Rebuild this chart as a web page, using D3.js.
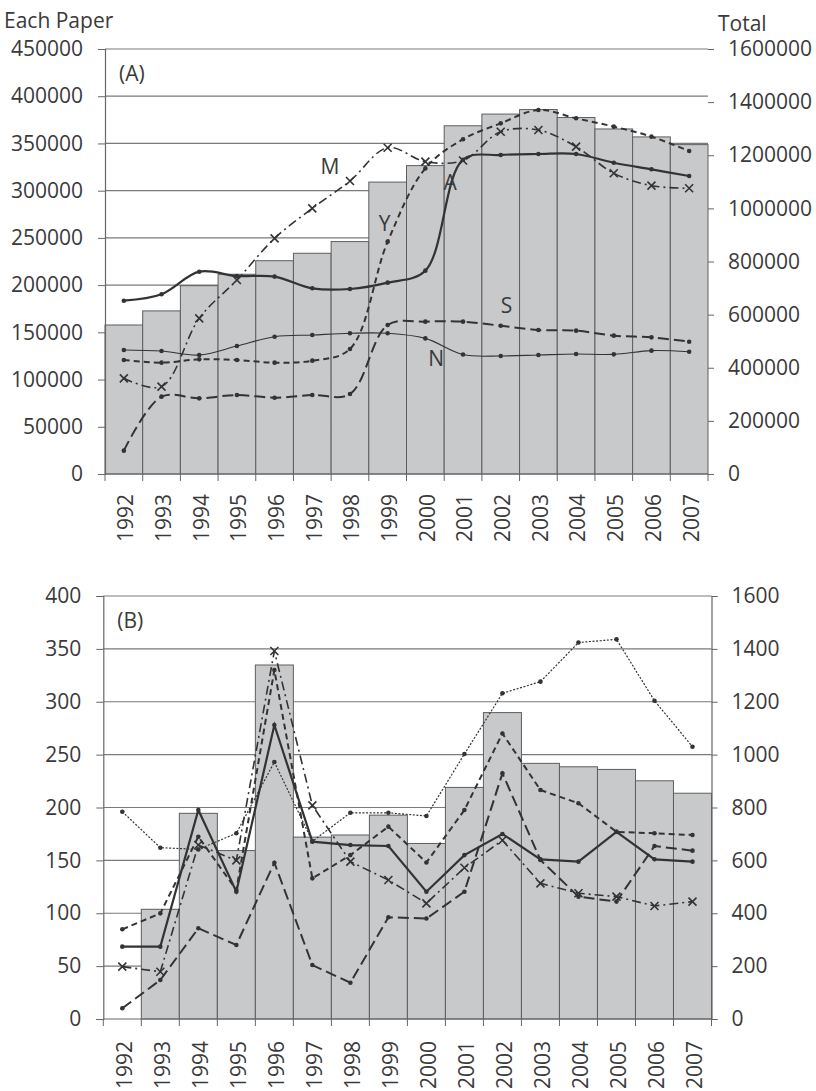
<!DOCTYPE html>
<html>
<head>
<meta charset="utf-8">
<script src="https://cdn.jsdelivr.net/npm/d3@7"></script>
<style>
  html, body { margin: 0; padding: 0; background: #fff; }
  svg { display: block; }
  text { font-family: "Open Sans", "Liberation Sans", sans-serif; fill: #3a3a3a; }
</style>
</head>
<body>
<svg id="chart" width="816" height="1091"></svg>
<script>
// ---- data ----
const years = ["1992","1993","1994","1995","1996","1997","1998","1999",
               "2000","2001","2002","2003","2004","2005","2006","2007"];

// Panel A: article counts
const totalA = [561000, 614000, 709000, 752000, 803000, 831000, 875000, 1099000,
                1161000, 1311000, 1355000, 1372000, 1342000, 1299000, 1269000, 1240000];
const seriesA_A = [183500, 190300, 214200, 209600, 209000, 196600, 195900, 202600,
                   215300, 332800, 337800, 338800, 338800, 329600, 322600, 315500];
const seriesA_M = [101300, 92500, 164800, 205400, 249500, 281300, 310200, 345500,
                   330700, 332000, 362400, 364200, 346600, 318400, 305300, 302500];
const seriesA_Y = [120700, 117900, 121400, 120700, 117900, 120000, 132400, 246000,
                   323600, 354500, 371300, 385400, 376600, 367800, 357200, 342000];
const seriesA_S = [24700, 81900, 80100, 83600, 80800, 83600, 84700, 157800,
                   161300, 161300, 157000, 152500, 151800, 146500, 144700, 140100];
const seriesA_N = [131300, 130200, 126000, 135500, 145400, 147200, 149000, 149000,
                   143600, 126500, 125000, 126000, 127000, 126700, 130600, 129500];

// Panel B: article counts
const totalB = [0, 415, 778, 637, 1339, 688, 696, 771, 664, 876, 1159, 967, 954, 944, 901, 854];
const seriesB_A = [68.4, 68.4, 197.6, 120.4, 278, 167.7, 164.5, 163.6, 120.4, 155, 175, 151, 148.8, 177, 151, 148.8];
const seriesB_M = [49.5, 44.7, 164.5, 150, 348, 202, 148.8, 131.4, 109.4, 143, 169, 128.3, 118.9, 115.7, 106.9, 111];
const seriesB_Y = [84.8, 99.9, 172.4, 122, 330, 133, 155, 181.9, 148, 197.6, 270, 216.5, 204, 177, 175.6, 174];
const seriesB_S = [10.1, 36.9, 85.8, 70, 147.8, 51, 34.3, 96.2, 95, 120.4, 232.3, 150.4, 115.7, 111, 163.6, 159.2];
const seriesB_N = [196, 162, 160.4, 175.6, 243, 168, 195, 195, 192, 250.6, 308, 319, 356, 359, 301, 257.5];

const ticksLeftA = [0, 50000, 100000, 150000, 200000, 250000, 300000, 350000, 400000, 450000];
const ticksRightA = [0, 200000, 400000, 600000, 800000, 1000000, 1200000, 1400000, 1600000];
const ticksLeftB = [0, 50, 100, 150, 200, 250, 300, 350, 400];
const ticksRightB = [0, 200, 400, 600, 800, 1000, 1200, 1400, 1600];

// ---- drawing ----
const svg = d3.select("#chart");
const lineColor = "#333";
const fontPx = "21px";

const styles = {
  A: { dash: null, width: 2.2, marker: "dot" },
  M: { dash: "9,4,2,4", width: 1.6, marker: "x" },
  Y: { dash: "6,4", width: 2, marker: "dot" },
  S: { dash: "11,5", width: 2, marker: "dot" },
  N: { dash: null, width: 1.1, marker: "dot" },
  Nd: { dash: "2,1.6", width: 1.2, marker: "dot" }
};

function panel(cfg) {
  const g = svg.append("g");
  const x = d3.scaleBand().domain(years).range([cfg.x0, cfg.x1]).padding(0);
  const yL = d3.scaleLinear().domain([0, cfg.leftMax]).range([cfg.yBot, cfg.yTop]);
  const yR = d3.scaleLinear().domain([0, cfg.rightMax]).range([cfg.yBot, cfg.yTop]);

  // horizontal gridlines (behind bars)
  g.append("g").selectAll("line").data(cfg.leftTicks.filter(d => d > 0)).join("line")
    .attr("x1", cfg.x0).attr("x2", cfg.x1)
    .attr("y1", d => yL(d)).attr("y2", d => yL(d))
    .attr("stroke", "#7a7a7a").attr("stroke-width", 1.2);

  // bars for the total count
  g.append("g").selectAll("rect").data(years.map((y, i) => ({ y, v: cfg.total[i] })).filter(d => d.v > 0))
    .join("rect")
    .attr("x", d => x(d.y)).attr("width", x.bandwidth())
    .attr("y", d => yR(d.v)).attr("height", d => yR(0) - yR(d.v))
    .attr("fill", "#c7c9cb").attr("stroke", "#5e5e5e").attr("stroke-width", 1);

  // left axis
  const axL = g.append("g").attr("transform", `translate(${cfg.x0},0)`)
    .call(d3.axisLeft(yL).tickValues(cfg.leftTicks).tickSize(7).tickPadding(15).tickFormat(d3.format("d")));
  axL.select(".domain").attr("stroke", "#666").attr("stroke-width", 1.2);
  axL.selectAll(".tick line").attr("stroke", "#666");
  axL.selectAll("text").style("font-size", fontPx).attr("fill", "#3a3a3a");

  // right axis
  const axR = g.append("g").attr("transform", `translate(${cfg.x1},0)`)
    .call(d3.axisRight(yR).tickValues(cfg.rightTicks).tickSize(6).tickPadding(14).tickFormat(d3.format("d")));
  axR.select(".domain").attr("stroke", cfg.rightLine ? "#666" : "none").attr("stroke-width", 1.2);
  axR.selectAll(".tick line").attr("stroke", "#666");
  axR.selectAll("text").style("font-size", fontPx).attr("fill", "#3a3a3a");

  // category axis with ticks at band edges
  const axX = g.append("g").attr("transform", `translate(0,${cfg.yBot})`);
  axX.append("line").attr("x1", cfg.x0).attr("x2", cfg.x1).attr("stroke", "#666").attr("stroke-width", 1.2);
  axX.selectAll("line.edge").data(years.concat(["end"])).join("line").attr("class", "edge")
    .attr("x1", (d, i) => cfg.x0 + i * x.bandwidth()).attr("x2", (d, i) => cfg.x0 + i * x.bandwidth())
    .attr("y1", 0).attr("y2", 7).attr("stroke", "#666");
  axX.selectAll("text").data(years).join("text")
    .attr("transform", d => `translate(${x(d) + x.bandwidth() / 2 + 2},${cfg.labelGap}) rotate(-90)`)
    .attr("text-anchor", "end").attr("dy", "0.35em")
    .style("font-size", fontPx).text(d => d);

  // lines
  const curve = cfg.smooth ? d3.curveCatmullRom.alpha(0.5) : d3.curveLinear;
  cfg.series.forEach(s => {
    const st = styles[s.style || s.key];
    const pts = s.values.map((v, i) => [x(years[i]) + x.bandwidth() / 2, yL(v)]);
    g.append("path").datum(pts)
      .attr("d", d3.line().curve(curve))
      .attr("fill", "none").attr("stroke", lineColor)
      .attr("stroke-width", st.width)
      .attr("stroke-dasharray", st.dash);
    if (st.marker === "dot") {
      g.append("g").selectAll("circle").data(pts).join("circle")
        .attr("cx", d => d[0]).attr("cy", d => d[1]).attr("r", 2.3).attr("fill", lineColor);
    } else {
      g.append("g").selectAll("path").data(pts).join("path")
        .attr("d", d => `M${d[0] - 4},${d[1] - 4}L${d[0] + 4},${d[1] + 4}M${d[0] - 4},${d[1] + 4}L${d[0] + 4},${d[1] - 4}`)
        .attr("stroke", lineColor).attr("stroke-width", 1.6);
    }
  });

  // panel tag
  g.append("text").attr("x", cfg.x0 + 14).attr("y", cfg.yTop + 32).style("font-size", fontPx).text(cfg.tag);
  return { g, x, yL };
}

const pA = panel({
  x0: 105, x1: 708, yTop: 49, yBot: 474, labelGap: 20,
  leftMax: 450000, rightMax: 1600000,
  leftTicks: ticksLeftA, rightTicks: ticksRightA,
  total: totalA, smooth: true, rightLine: false, tag: "(A)",
  series: [
    { key: "N", values: seriesA_N },
    { key: "S", values: seriesA_S },
    { key: "Y", values: seriesA_Y },
    { key: "M", values: seriesA_M },
    { key: "A", values: seriesA_A }
  ]
});

// series letters in panel A
const letterPos = [
  { t: "M", year: "1998", v: 310000, dx: -20, dy: -15 },
  { t: "Y", year: "1999", v: 246000, dx: -3, dy: -18 },
  { t: "A", year: "2001", v: 300000, dx: -13, dy: -8 },
  { t: "S", year: "2003", v: 161300, dx: -32, dy: -16 },
  { t: "N", year: "2001", v: 116000, dx: -27, dy: -6 }
];
pA.g.selectAll("text.letter").data(letterPos).join("text").attr("class", "letter")
  .attr("x", d => pA.x(d.year) + pA.x.bandwidth() / 2 + d.dx)
  .attr("y", d => pA.yL(d.v) + d.dy)
  .attr("text-anchor", "middle").attr("dy", "0.35em")
  .style("font-size", "21px").text(d => d.t);

svg.append("text").attr("x", 4).attr("y", 28).style("font-size", fontPx).text("Each Paper");
svg.append("text").attr("x", 718).attr("y", 31).style("font-size", fontPx).text("Total");

panel({
  x0: 103.3, x1: 711.5, yTop: 596, yBot: 1019, labelGap: 22,
  leftMax: 400, rightMax: 1600,
  leftTicks: ticksLeftB, rightTicks: ticksRightB,
  total: totalB, smooth: false, rightLine: true, tag: "(B)",
  series: [
    { key: "N", style: "Nd", values: seriesB_N },
    { key: "S", values: seriesB_S },
    { key: "Y", values: seriesB_Y },
    { key: "M", values: seriesB_M },
    { key: "A", values: seriesB_A }
  ]
});
</script>
</body>
</html>
